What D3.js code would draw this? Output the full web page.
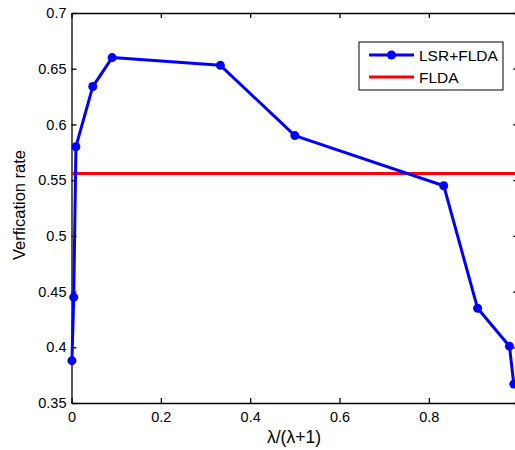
<!DOCTYPE html>
<html>
<head>
<meta charset="utf-8">
<script src="https://cdn.jsdelivr.net/npm/d3@7"></script>
<style>
  body { margin: 0; background: #fff; }
  svg { display: block; font-family: "Liberation Sans", Arial, sans-serif; }
  .axis path, .axis line { stroke: #000; stroke-width: 1.3; }
  .axis text { font-size: 14.5px; fill: #000; }
</style>
</head>
<body>
<div id="chart"></div>
<script>
// lambda/(lambda+1) values and verification rates
const ratio = [0.001, 0.005, 0.0099, 0.0476, 0.0909, 0.3333, 0.5, 0.8333, 0.9091, 0.9804, 0.9901];
const lsrRate = [0.388, 0.445, 0.580, 0.634, 0.660, 0.653, 0.590, 0.545, 0.435, 0.401, 0.367];
const fldaRate = 0.556;

// the figure is cropped at the right, so the tick at 1 never shows
const xTicks = [0, 0.2, 0.4, 0.6, 0.8];
const yTicks = [0.35, 0.4, 0.45, 0.5, 0.55, 0.6, 0.65, 0.7];
const seriesNames = ['LSR+FLDA', 'FLDA'];

const W = 515, H = 450;
const margin = { top: 13, left: 71.5 };
const plotW = 446.7, plotH = 390;

const svg = d3.select('#chart')
  .append('svg')
  .attr('width', W)
  .attr('height', H);

const g = svg.append('g')
  .attr('transform', `translate(${margin.left},${margin.top})`);

const x = d3.scaleLinear().domain([0, 1]).range([0, plotW]);
const y = d3.scaleLinear().domain([0.35, 0.7]).range([plotH, 0]);

// axes, ticks pointing inward like matlab
g.append('g')
  .attr('class', 'axis')
  .attr('transform', `translate(0,${plotH})`)
  .call(d3.axisBottom(x).tickValues(xTicks).tickSizeInner(-5).tickSizeOuter(0).tickPadding(9).tickFormat(d3.format('')));

g.append('g')
  .attr('class', 'axis')
  .call(d3.axisTop(x).tickValues(xTicks).tickSizeInner(-5).tickSizeOuter(0).tickFormat(''));

g.append('g')
  .attr('class', 'axis')
  .call(d3.axisLeft(y).tickValues(yTicks).tickSizeInner(-5).tickSizeOuter(0).tickPadding(5).tickFormat(d3.format('')));

g.append('g')
  .attr('class', 'axis')
  .attr('transform', `translate(${plotW},0)`)
  .call(d3.axisRight(y).tickValues(yTicks).tickSizeInner(-5).tickSizeOuter(0).tickFormat(''));

// FLDA baseline
g.append('line')
  .attr('x1', x(0))
  .attr('x2', x(1))
  .attr('y1', y(fldaRate))
  .attr('y2', y(fldaRate))
  .attr('stroke', '#ff0000')
  .attr('stroke-width', 3);

// LSR+FLDA curve
const pts = ratio.map((r, i) => ({ r: r, v: lsrRate[i] }));

const line = d3.line()
  .x(d => x(d.r))
  .y(d => y(d.v));

g.append('path')
  .datum(pts)
  .attr('d', line)
  .attr('fill', 'none')
  .attr('stroke', '#0000ff')
  .attr('stroke-width', 3)
  .attr('stroke-linejoin', 'round');

g.selectAll('.dot')
  .data(pts)
  .enter()
  .append('circle')
  .attr('class', 'dot')
  .attr('cx', d => x(d.r))
  .attr('cy', d => y(d.v))
  .attr('r', 4.5)
  .attr('fill', '#0000ff');

// axis labels
svg.append('text')
  .attr('x', 294)
  .attr('y', 443)
  .attr('text-anchor', 'middle')
  .attr('font-size', 17.5)
  .text('λ/(λ+1)');

svg.append('text')
  .attr('transform', 'translate(25,205) rotate(-90)')
  .attr('text-anchor', 'middle')
  .attr('font-size', 16.5)
  .text('Verfication rate');

// legend
const legend = svg.append('g').attr('transform', 'translate(359,42)');

legend.append('rect')
  .attr('width', 144)
  .attr('height', 48)
  .attr('fill', '#fff')
  .attr('stroke', '#000')
  .attr('stroke-width', 1);

const legColors = ['#0000ff', '#ff0000'];
seriesNames.forEach((name, i) => {
  const ly = 13 + i * 22;
  legend.append('line')
    .attr('x1', 10).attr('x2', 55)
    .attr('y1', ly).attr('y2', ly)
    .attr('stroke', legColors[i])
    .attr('stroke-width', 3);
  if (i === 0) {
    legend.append('circle')
      .attr('cx', 32.5).attr('cy', ly).attr('r', 4.5)
      .attr('fill', legColors[i]);
  }
  legend.append('text')
    .attr('x', 60)
    .attr('y', ly)
    .attr('dy', '0.36em')
    .attr('font-size', 15.5)
    .text(name);
});
</script>
</body>
</html>
